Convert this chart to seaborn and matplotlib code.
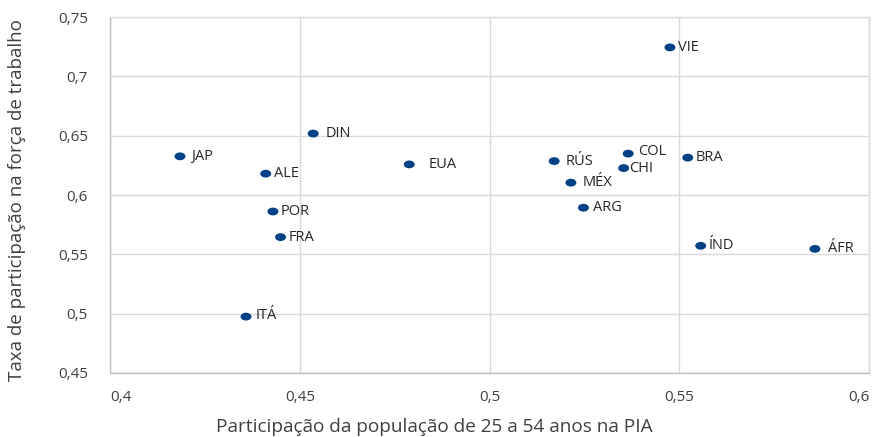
import matplotlib
matplotlib.use("Agg")
import matplotlib.pyplot as plt
from matplotlib.path import Path
import pandas as pd
import seaborn as sns

# Data
paises = ["JAP", "DIN", "EUA", "ALE", "POR", "FRA", "ITÁ", "VIE", "RÚS",
          "COL", "CHI", "MÉX", "ARG", "BRA", "ÍND", "ÁFR"]
pop_25_54 = [0.4184, 0.4535, 0.4788, 0.4410, 0.4429, 0.4449, 0.4358, 0.5475,
             0.5170, 0.5365, 0.5353, 0.5214, 0.5247, 0.5522, 0.5556, 0.5857]
taxa_part = [0.6326, 0.6518, 0.6258, 0.6180, 0.5861, 0.5645, 0.4975, 0.7244,
             0.6286, 0.6349, 0.6227, 0.6104, 0.5893, 0.6315, 0.5572, 0.5546]

x_ticks = [0.4, 0.45, 0.5, 0.55, 0.6]
y_ticks = [0.45, 0.5, 0.55, 0.6, 0.65, 0.7, 0.75]

df = pd.DataFrame({"pais": paises, "x": pop_25_54, "y": taxa_part})

# label offsets in pixels (dx, dy)
offsets = {"JAP": (11, 0), "DIN": (12, 0), "EUA": (19, 0), "ALE": (8, 0),
           "POR": (8, 0), "FRA": (8, 0), "ITÁ": (10, 1), "VIE": (8, 0),
           "RÚS": (11, 0), "COL": (10, 2), "CHI": (5, 0), "MÉX": (12, 0),
           "ARG": (10, 0), "BRA": (8, 0), "ÍND": (8, 0), "ÁFR": (13, 0)}


def br(v):
    # brazilian decimal comma, no trailing zeros
    return f"{v:.2f}".rstrip("0").replace(".", ",")


sns.set_style("white")
plt.rcParams["font.family"] = ["Open Sans", "DejaVu Sans"]

fig = plt.figure(figsize=(8.74, 4.37), dpi=100)
ax = fig.add_axes([0.126, 0.1465, 0.8685, 0.8145])

circ = Path.unit_circle()
oval = Path(circ.vertices * [1.4, 1.0], circ.codes)

sns.scatterplot(data=df, x="x", y="y", ax=ax, marker=oval, s=62,
                color="#004185", edgecolor="none", zorder=3)

for _, r in df.iterrows():
    dx, dy = offsets[r["pais"]]
    ax.annotate(r["pais"], (r["x"], r["y"]), xytext=(dx * 0.72, dy * 0.72),
                textcoords="offset points", ha="left", va="center",
                fontsize=10.5, color="#262626")

ax.set_xlim(0.4, 0.6)
ax.set_ylim(0.45, 0.75)
ax.set_xticks(x_ticks, labels=[br(v) for v in x_ticks])
ax.set_yticks(y_ticks, labels=[br(v) for v in y_ticks])

ax.grid(True, color="#d9d9d9", linewidth=1)
ax.set_axisbelow(True)
for side in ["top", "right"]:
    ax.spines[side].set_color("#d9d9d9")
for side in ["left", "bottom"]:
    ax.spines[side].set_color("#bfbfbf")
for sp in ax.spines.values():
    sp.set_linewidth(1)

ax.tick_params(axis="both", length=0, labelsize=11, colors="#404040")
ax.tick_params(axis="y", pad=16)
ax.tick_params(axis="x", pad=12)

# keep the end labels inside the plot width, like the original
xlabels = ax.get_xticklabels()
xlabels[0].set_ha("left")
xlabels[-1].set_ha("right")

ax.set_xlabel("Participação da população de 25 a 54 anos na PIA",
              fontsize=13.7, color="#404040", va="center")
ax.set_ylabel("Taxa de participação na força de trabalho",
              fontsize=13.5, color="#404040", va="center")
ax.xaxis.set_label_coords(0.427, -0.152)
ax.yaxis.set_label_coords(-0.1225, 0.486)

fig.savefig("out.png", dpi=100)
